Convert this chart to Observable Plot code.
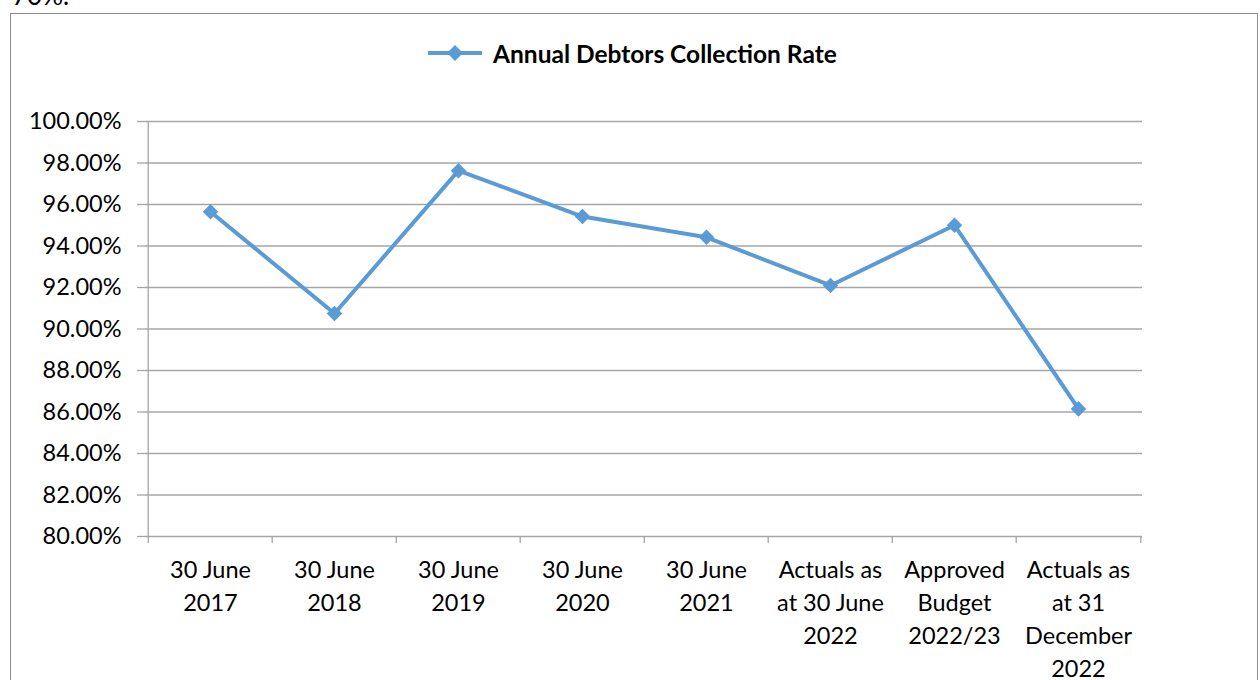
<!DOCTYPE html>
<html><head><meta charset="utf-8">
<script src="https://cdn.jsdelivr.net/npm/d3@7"></script>
<script src="https://cdn.jsdelivr.net/npm/@observablehq/plot@0.6"></script>
<style>
body{margin:0;background:#fff;font-family:Lato,"Open Sans",sans-serif;color:#000;}
#wrap{position:relative;width:1260px;height:680px;overflow:hidden;}
#frame{position:absolute;left:10px;top:13px;width:1248px;height:720px;border:1.5px solid #8c8c8c;box-sizing:border-box;}
#above{position:absolute;left:12px;top:-21px;font-size:26px;}
#legend{position:absolute;left:428px;top:38px;height:30px;display:flex;align-items:center;gap:11px;font-weight:bold;font-size:24.5px;white-space:nowrap;}
#chart{position:absolute;left:0;top:0;}
</style></head>
<body>
<div id="wrap">
  <div id="above">70%.</div>
  <div id="frame"></div>
  <div id="legend">
    <svg width="54" height="20"><line x1="0" y1="10" x2="54" y2="10" stroke="#5B9BD5" stroke-width="4"/><path d="M27,2L35,10L27,18L19,10Z" fill="#5B9BD5"/></svg>
    <span>Annual Debtors Collection Rate</span>
  </div>
  <div id="chart"></div>
</div>
<script>
const categories = [
  "30 June\n2017",
  "30 June\n2018",
  "30 June\n2019",
  "30 June\n2020",
  "30 June\n2021",
  "Actuals as\nat 30 June\n2022",
  "Approved\nBudget\n2022/23",
  "Actuals as\nat 31\nDecember\n2022"
];
const rates = [95.65, 90.75, 97.63, 95.42, 94.42, 92.10, 95.00, 86.15];
const yTicks = [80, 82, 84, 86, 88, 90, 92, 94, 96, 98, 100];

const data = categories.map((c, i) => ({cat: c, rate: rates[i]}));

const W = 1260, H = 680, mL = 145, mR = 118, mT = 121, mB = 144;
const step = (W - mL - mR) / categories.length;
const grid = "#a6a6a6";
const blue = "#5B9BD5";

const chart = Plot.plot({
  width: W, height: H,
  marginLeft: mL, marginRight: mR, marginTop: mT, marginBottom: mB,
  style: {fontFamily: "Lato, 'Open Sans', sans-serif", fontSize: "23.5px", color: "#000", background: "transparent", overflow: "visible"},
  x: {type: "band", domain: categories, padding: 0, label: null},
  y: {domain: [80, 100], label: null},
  marks: [
    Plot.ruleY(yTicks, {stroke: grid, strokeWidth: 1.3}),
    Plot.ruleX([categories[0]], {y1: 80, y2: 100, dx: -step / 2, stroke: grid, strokeWidth: 1.3}),
    Plot.axisY({ticks: yTicks, tickSize: 8, tickPadding: 16, tickFormat: d => d.toFixed(2) + "%", stroke: grid, strokeWidth: 1.3, fill: "#000"}),
    Plot.axisX({ticks: categories, tickSize: 7, tickFormat: () => "", dx: -step / 2, stroke: grid, strokeWidth: 1.3}),
    Plot.axisX({ticks: [categories[categories.length - 1]], tickSize: 7, tickFormat: () => "", dx: step / 2, stroke: grid, strokeWidth: 1.3}),
    Plot.axisX({ticks: categories, tickSize: 0, tickPadding: 18, lineHeight: 1.4, fill: "#000"}),
    Plot.line(data, {x: "cat", y: "rate", stroke: blue, strokeWidth: 4}),
    Plot.dot(data, {x: "cat", y: "rate", symbol: "diamond2", r: 7, fill: blue, stroke: "none"})
  ]
});
document.getElementById("chart").appendChild(chart);
</script>
</body></html>
